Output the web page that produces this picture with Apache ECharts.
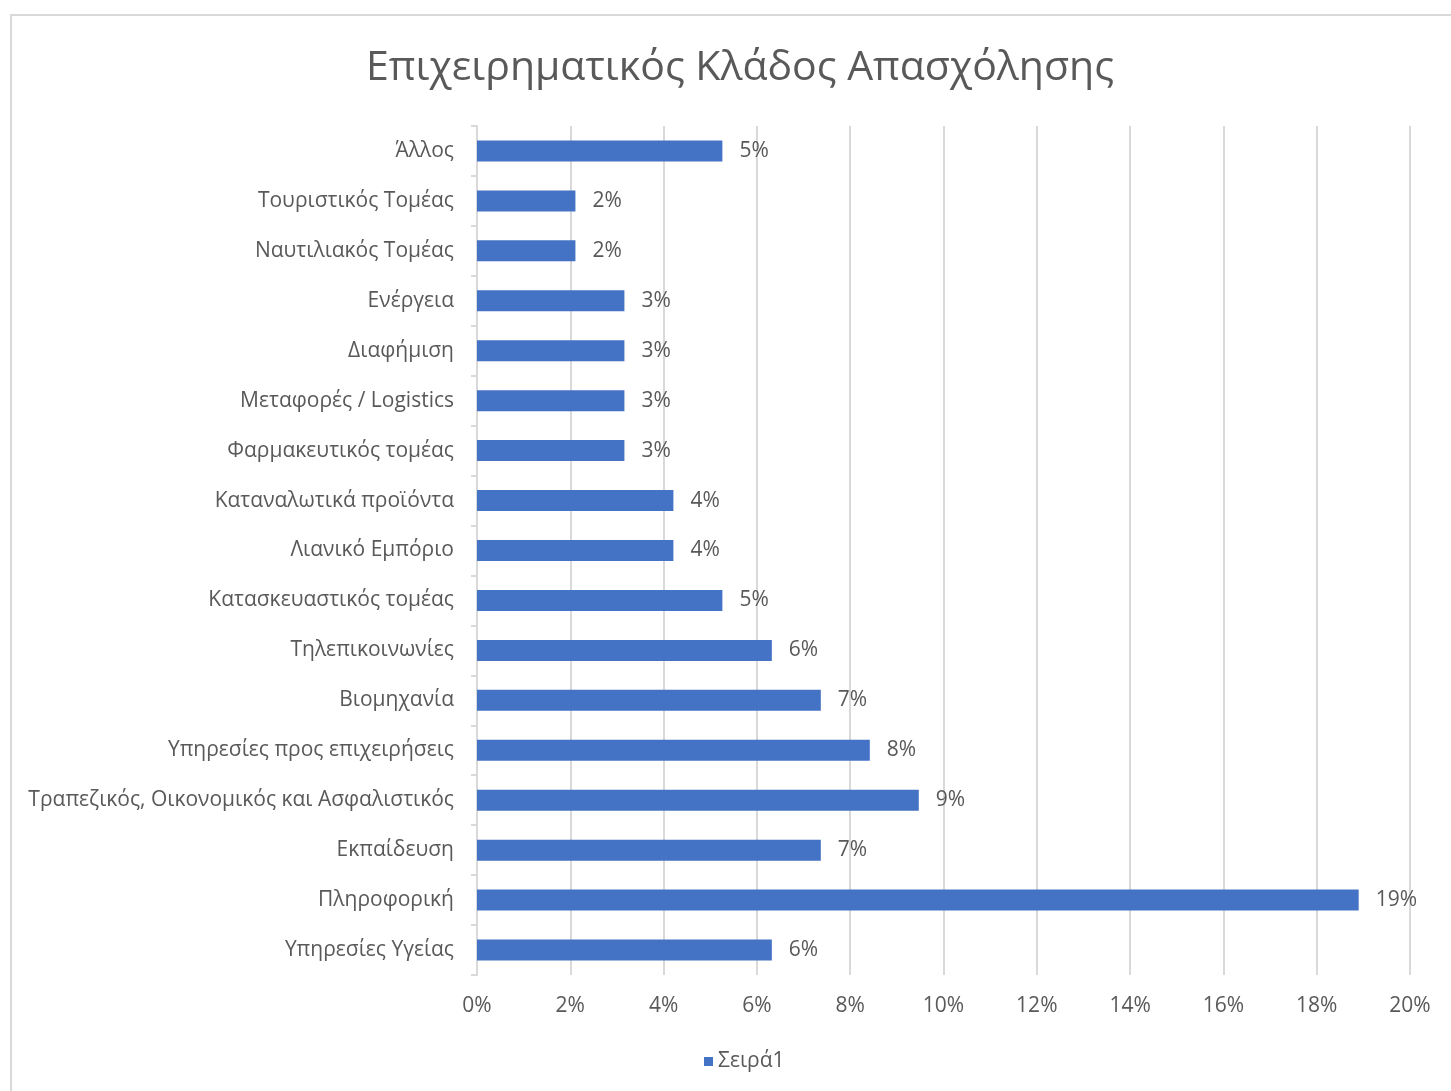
<!DOCTYPE html>
<html>
<head>
<meta charset="utf-8">
<script src="https://cdn.jsdelivr.net/npm/echarts@6/dist/echarts.min.js"></script>
<style>
  html, body { margin: 0; padding: 0; background: #fff; }
  #chart { width: 1451px; height: 1091px; }
</style>
</head>
<body>
<div id="chart"></div>
<script>
// κατηγορίες από πάνω προς τα κάτω
const categories = [
  'Άλλος',
  'Τουριστικός Τομέας',
  'Ναυτιλιακός Τομέας',
  'Ενέργεια',
  'Διαφήμιση',
  'Μεταφορές / Logistics',
  'Φαρμακευτικός τομέας',
  'Καταναλωτικά προϊόντα',
  'Λιανικό Εμπόριο',
  'Κατασκευαστικός τομέας',
  'Τηλεπικοινωνίες',
  'Βιομηχανία',
  'Υπηρεσίες προς επιχειρήσεις',
  'Τραπεζικός, Οικονομικός και Ασφαλιστικός',
  'Εκπαίδευση',
  'Πληροφορική',
  'Υπηρεσίες Υγείας'
];
// ποσοστά (%)
const values = [5.26, 2.11, 2.11, 3.16, 3.16, 3.16, 3.16, 4.21, 4.21, 5.26, 6.32, 7.37, 8.42, 9.47, 7.37, 18.9, 6.32];
const xTicks = [0, 2, 4, 6, 8, 10, 12, 14, 16, 18, 20];

const font = '"Open Sans", "Noto Sans", sans-serif';
const textColor = '#595959';

function renderChart() {
  const chart = echarts.init(document.getElementById('chart'));
  chart.setOption({
    animation: false,
    textStyle: { fontFamily: font },
    title: {
      text: 'Επιχειρηματικός Κλάδος Απασχόλησης',
      left: 735,
      textAlign: 'center',
      top: 43,
      textStyle: { fontSize: 41, fontWeight: 'normal', color: textColor, fontFamily: font }
    },
    graphic: [{
      type: 'rect',
      shape: { x: 11, y: 15, width: 1460, height: 1100 },
      style: { fill: 'none', stroke: '#d9d9d9', lineWidth: 2 },
      silent: true
    }],
    legend: {
      bottom: 14,
      left: 699,
      itemWidth: 9,
      itemHeight: 9,
      itemGap: 6,
      icon: 'rect',
      textStyle: { fontSize: 21, color: textColor, fontFamily: font },
      data: ['Σειρά1']
    },
    grid: { left: 477, right: 41, top: 126, bottom: 116, containLabel: false },
    xAxis: {
      type: 'value',
      min: xTicks[0],
      max: xTicks[xTicks.length - 1],
      interval: 2,
      axisLine: { show: false },
      axisTick: { show: false },
      axisLabel: {
        fontSize: 21, color: textColor, margin: 21, fontFamily: font,
        formatter: v => v + '%'
      },
      splitLine: { lineStyle: { color: '#d9d9d9', width: 2 } }
    },
    yAxis: {
      type: 'category',
      inverse: true,
      data: categories,
      axisLine: { lineStyle: { color: '#d9d9d9', width: 2 } },
      axisTick: { show: true, length: 6, lineStyle: { color: '#d9d9d9', width: 2 } },
      axisLabel: { fontSize: 21, color: textColor, margin: 23, fontFamily: font, padding: [2, 0, 0, 0] }
    },
    series: [{
      name: 'Σειρά1',
      type: 'bar',
      data: values,
      barWidth: 21,
      itemStyle: { color: '#4472c4' },
      label: {
        show: true,
        position: 'right',
        distance: 17,
        fontSize: 21,
        color: textColor,
        fontFamily: font,
        padding: [2, 0, 0, 0],
        formatter: p => Math.round(p.value) + '%'
      }
    }]
  });
  window.addEventListener('resize', () => chart.resize());
}

renderChart();
</script>
</body>
</html>
